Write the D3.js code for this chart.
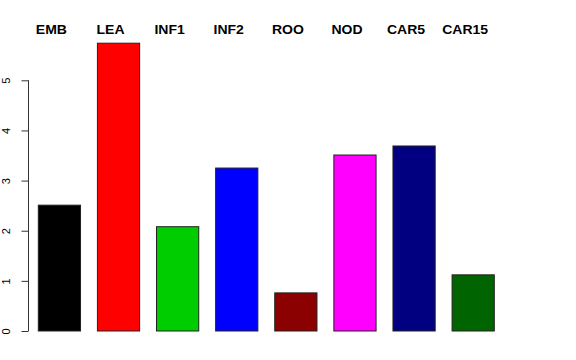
<!DOCTYPE html>
<html><head><meta charset="utf-8">
<script src="https://cdn.jsdelivr.net/npm/d3@7"></script>
<style>body{margin:0;background:#fff}svg{display:block}</style>
</head><body>
<svg id="c" width="576" height="360"></svg>
<script>
const categories = ["EMB","LEA","INF1","INF2","ROO","NOD","CAR5","CAR15"];
const values = [2.51, 5.74, 2.08, 3.25, 0.76, 3.51, 3.69, 1.12];
const colors = ["#000000","#FF0000","#00CD00","#0000FF","#8B0000","#FF00FF","#000080","#006400"];
const yTicks = [0,1,2,3,4,5];

const svg = d3.select("#c");
const x = d3.scaleBand().domain(categories).range([38.3, 494.3]).paddingInner(0.4/1.4).paddingOuter(0);
const y = d3.scaleLinear().domain([0,5]).range([331, 80.3]);

svg.selectAll("rect.bar").data(categories).join("rect")
  .attr("class","bar")
  .attr("x", d => x(d))
  .attr("width", x.bandwidth())
  .attr("y", (d,i) => y(values[i]))
  .attr("height", (d,i) => y(0) - y(values[i]))
  .attr("fill", (d,i) => colors[i])
  .attr("stroke", "#222")
  .attr("stroke-width", 1);

const ax = svg.append("g").attr("transform","translate(28.5,0)")
  .call(d3.axisLeft(y).tickValues(yTicks).tickSize(7).tickPadding(0).tickFormat(d3.format("d")));
ax.select(".domain").attr("d", `M0,${y(0)}V${y(5)}`).attr("stroke","#333");
ax.selectAll(".tick line").attr("stroke","#333");
ax.selectAll(".tick text")
  .attr("font-family","Liberation Sans, Arial, sans-serif")
  .attr("font-size", 11)
  .attr("fill","#000")
  .attr("transform","rotate(-90)")
  .attr("x", 0)
  .attr("y", -18.5)
  .attr("dy", 0)
  .attr("text-anchor","middle");

svg.selectAll("text.lab").data(categories).join("text")
  .attr("class","lab")
  .attr("x", d => x(d) + x.bandwidth()/2 - 8)
  .attr("y", 34)
  .attr("text-anchor","middle")
  .attr("font-family","Liberation Sans, Arial, sans-serif")
  .attr("font-weight","bold")
  .attr("font-size", 12.5)
  .text(d => d)
  .each(function(){
    const w = this.getComputedTextLength();
    d3.select(this).attr("textLength", w * 1.12).attr("lengthAdjust","spacingAndGlyphs");
  });
</script>
</body></html>
